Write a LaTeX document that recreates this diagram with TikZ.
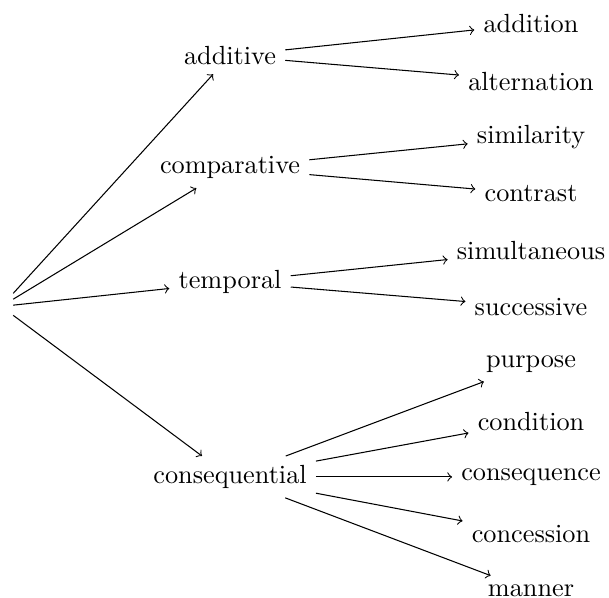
\documentclass[tikz,border=0pt]{standalone}
\usepackage{tikz}
\usetikzlibrary{arrows.meta}

\begin{document}
\begin{tikzpicture}[>=to]
    \useasboundingbox (0,0) rectangle (8.154,8.006);

    % Root (empty)
    \node[minimum width=8.7pt, minimum height=10pt, inner sep=0pt] (root) at (0.017, 3.903) {};

    % First level
    \node (additive) at (3.08, 7.26) {additive};
    \node (comparative) at (3.08, 5.76) {comparative};
    \node (temporal) at (3.08, 4.23) {temporal};
    \node (consequential) at (3.08, 1.62) {consequential};

    % Second level
    \node (addition) at (7.11, 7.685) {addition};
    \node (alternation) at (7.11, 6.92) {alternation};
    \node (similarity) at (7.11, 6.165) {similarity};
    \node (contrast) at (7.11, 5.41) {contrast};
    \node (simultaneous) at (7.11, 4.646) {simultaneous};
    \node (successive) at (7.11, 3.896) {successive};
    \node (purpose) at (7.11, 3.133) {purpose};
    \node (condition) at (7.11, 2.363) {condition};
    \node (consequence) at (7.11, 1.62) {consequence};
    \node (concession) at (7.11, 0.857) {concession};
    \node (manner) at (7.11, 0.094) {manner};

    % Branches from root
    \draw[->] (root) -- (additive);
    \draw[->] (root) -- (comparative);
    \draw[->] (root) -- (temporal);
    \draw[->] (root) -- (consequential);

    % Branches to second level
    \draw[->] (additive) -- (addition);
    \draw[->] (additive) -- (alternation);
    \draw[->] (comparative) -- (similarity);
    \draw[->] (comparative) -- (contrast);
    \draw[->] (temporal) -- (simultaneous);
    \draw[->] (temporal) -- (successive);
    \draw[->] (consequential) -- (purpose);
    \draw[->] (consequential) -- (condition);
    \draw[->] (consequential) -- (consequence);
    \draw[->] (consequential) -- (concession);
    \draw[->] (consequential) -- (manner);
\end{tikzpicture}
\end{document}
